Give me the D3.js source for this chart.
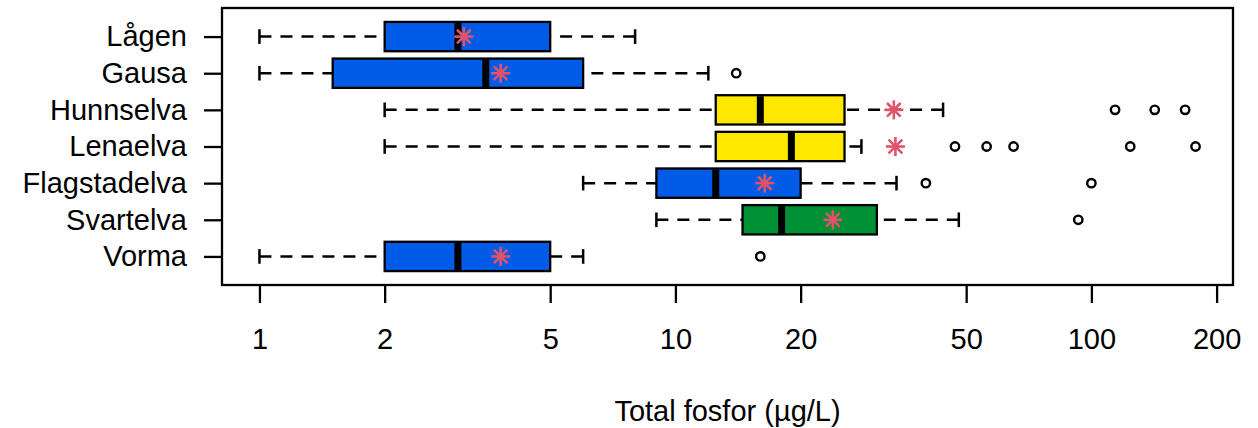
<!DOCTYPE html>
<html>
<head>
<meta charset="utf-8">
<script src="https://cdn.jsdelivr.net/npm/d3@7"></script>
<style>
  html, body { margin: 0; padding: 0; background: #fff; }
  svg { display: block; }
  text { font-family: "Liberation Sans", Arial, sans-serif; fill: #000; }
</style>
</head>
<body>
<svg id="chart" width="1258" height="428"></svg>
<script>
// Rivers, top to bottom
const rivers = ["Lågen", "Gausa", "Hunnselva", "Lenaelva", "Flagstadelva", "Svartelva", "Vorma"];
// Five-number summaries (lower whisker, Q1, median, Q3, upper whisker), µg/L
const whiskerLow  = [1,   1,   2,    2,    6,    9,    1];
const quartile1   = [2,   1.5, 12.5, 12.5, 9,    14.5, 2];
const medians     = [3,   3.5, 16,   19,   12.5, 18,   3];
const quartile3   = [5,   6,   25.5, 25.5, 20,   30.5, 5];
const whiskerHigh = [8,   12,  44,   28,   34,   48,   6];
// Arithmetic means (red stars)
const means       = [3.1, 3.8, 33.5, 33.8, 16.4, 23.9, 3.8];
// Outlying observations
const outliers    = [[], [14], [114, 142, 168], [47, 56, 65, 124, 178], [40, 100], [93], [16]];
// Box fill per river
const fills       = ["#005be6", "#005be6", "#ffe800", "#ffe800", "#005be6", "#009035", "#005be6"];
// Axis ticks
const xTicks      = [1, 2, 5, 10, 20, 50, 100, 200];

(function () {
  const svg = d3.select("#chart");
  const mLeft = 222, mRight = 1233, mTop = 8, mBottom = 285;
  const fontSize = 29;

  // Log scale padded 4% on both ends of the data range
  const allVals = whiskerLow.concat(whiskerHigh, outliers.flat(), means);
  const lmin = Math.log10(d3.min(allVals)), lmax = Math.log10(d3.max(allVals));
  const pad = 0.04 * (lmax - lmin);
  const x = d3.scaleLog()
    .domain([Math.pow(10, lmin - pad), Math.pow(10, lmax + pad)])
    .range([mLeft, mRight]);

  const n = rivers.length;
  const y = d3.scaleLinear()
    .domain([0.5 - 0.04 * n, n + 0.5 + 0.04 * n])
    .range([mTop, mBottom]);
  const halfBox = y(1.4) - y(1);

  const plot = svg.append("g");

  rivers.forEach((name, i) => {
    const cy = y(i + 1);
    const g = plot.append("g");

    // whiskers, drawn from the whisker end toward the hinge
    [[whiskerLow[i], quartile1[i]], [whiskerHigh[i], quartile3[i]]].forEach(([a, b]) => {
      if (a === b) return;
      g.append("line")
        .attr("x1", x(a)).attr("x2", x(b))
        .attr("y1", cy).attr("y2", cy)
        .attr("stroke", "#000").attr("stroke-width", 2.5)
        .attr("stroke-dasharray", "12,9");
      g.append("line")
        .attr("x1", x(a)).attr("x2", x(a))
        .attr("y1", cy - halfBox / 2).attr("y2", cy + halfBox / 2)
        .attr("stroke", "#000").attr("stroke-width", 2.5);
    });

    // box
    g.append("rect")
      .attr("x", x(quartile1[i]))
      .attr("y", cy - halfBox)
      .attr("width", x(quartile3[i]) - x(quartile1[i]))
      .attr("height", 2 * halfBox)
      .attr("fill", fills[i])
      .attr("stroke", "#000").attr("stroke-width", 2.3);

    // median
    g.append("line")
      .attr("x1", x(medians[i])).attr("x2", x(medians[i]))
      .attr("y1", cy - halfBox + 1).attr("y2", cy + halfBox - 1)
      .attr("stroke", "#000").attr("stroke-width", 7);

    // outliers
    outliers[i].forEach(v => {
      g.append("circle")
        .attr("cx", x(v)).attr("cy", cy).attr("r", 4.2)
        .attr("fill", "none").attr("stroke", "#000").attr("stroke-width", 2.4);
    });

    // mean as an asterisk
    const mx = x(means[i]), r = 9.5, d = r * 0.72;
    const star = g.append("g").attr("stroke", "#df536b").attr("stroke-width", 2.6);
    star.append("line").attr("x1", mx - r).attr("x2", mx + r).attr("y1", cy).attr("y2", cy);
    star.append("line").attr("x1", mx).attr("x2", mx).attr("y1", cy - r).attr("y2", cy + r);
    star.append("line").attr("x1", mx - d).attr("x2", mx + d).attr("y1", cy - d).attr("y2", cy + d);
    star.append("line").attr("x1", mx - d).attr("x2", mx + d).attr("y1", cy + d).attr("y2", cy - d);
  });

  // frame
  svg.append("rect")
    .attr("x", mLeft).attr("y", mTop)
    .attr("width", mRight - mLeft).attr("height", mBottom - mTop)
    .attr("fill", "none").attr("stroke", "#000").attr("stroke-width", 2.3);

  // x axis
  const xAxis = d3.axisBottom(x)
    .tickValues(xTicks)
    .tickFormat(d3.format("d"))
    .tickSize(18)
    .tickPadding(25);
  const gx = svg.append("g").attr("transform", `translate(0,${mBottom})`).call(xAxis);
  gx.select(".domain").remove();
  gx.selectAll(".tick line").attr("stroke", "#000").attr("stroke-width", 2.3);
  gx.selectAll(".tick text")
    .attr("font-size", fontSize)
    .attr("font-family", "Liberation Sans, Arial, sans-serif")
    .attr("fill", "#000");

  // y axis
  const yAxis = d3.axisLeft(y)
    .tickValues(d3.range(1, n + 1))
    .tickFormat(k => rivers[k - 1])
    .tickSize(18)
    .tickPadding(17);
  const gy = svg.append("g").attr("transform", `translate(${mLeft},0)`).call(yAxis);
  gy.select(".domain").remove();
  gy.selectAll(".tick line").attr("stroke", "#000").attr("stroke-width", 2.3);
  gy.selectAll(".tick text")
    .attr("font-size", fontSize)
    .attr("font-family", "Liberation Sans, Arial, sans-serif")
    .attr("fill", "#000");

  // axis title
  svg.append("text")
    .attr("x", (mLeft + mRight) / 2)
    .attr("y", 421)
    .attr("text-anchor", "middle")
    .attr("font-size", fontSize)
    .text("Total fosfor (µg/L)");
})();
</script>
</body>
</html>
